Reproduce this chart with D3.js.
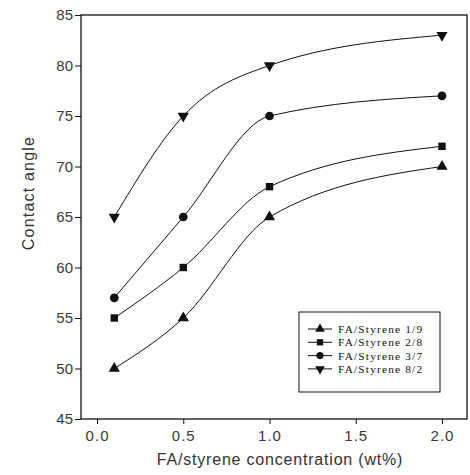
<!DOCTYPE html>
<html>
<head>
<meta charset="utf-8">
<script src="https://cdn.jsdelivr.net/npm/d3@7"></script>
<style>
	body { margin: 0; background: #fff; }
	svg { display: block; }
</style>
</head>
<body>
<svg class="viz" width="470" height="475"></svg>
<script>
// *** Chart values ***
let concs = [0.1, 0.5, 1.0, 2.0];
let names = ["FA/Styrene 1/9", "FA/Styrene 2/8", "FA/Styrene 3/7", "FA/Styrene 8/2"];
let vals19 = [50, 55, 65, 70];
let vals28 = [55, 60, 68, 72];
let vals37 = [57, 65, 75, 77];
let vals82 = [65, 75, 80, 83];
let xTicks = [0.0, 0.5, 1.0, 1.5, 2.0];
let yTicks = [45, 50, 55, 60, 65, 70, 75, 80, 85];

let series = [vals19, vals28, vals37, vals82];
let shapes = [d3.symbolTriangle, d3.symbolSquare, d3.symbolCircle, d3.symbolTriangle];

function render() {
	let grph = d3.select(".viz");

	let x = d3.scaleLinear().domain([-0.093, 2.145]).range([81, 467]);
	let y = d3.scaleLinear().domain([45, 85]).range([419, 15]);

	let tickFont = "'Liberation Sans', Arial, sans-serif";

	// frame
	grph.append("rect")
		.attr("x", x.range()[0]).attr("y", y.range()[1])
		.attr("width", x.range()[1] - x.range()[0])
		.attr("height", y.range()[0] - y.range()[1])
		.attr("fill", "none").attr("stroke", "#111").attr("stroke-width", 1.3);

	// y axis
	let ax = grph.append("g").attr("transform", "translate(81, 0)")
		.call(d3.axisLeft(y).tickValues(yTicks).tickSize(6).tickPadding(2).tickFormat(d3.format("d")));
	ax.select(".domain").remove();
	ax.selectAll("line").attr("stroke", "#111");
	ax.selectAll("text").attr("font-family", tickFont).attr("font-size", 15).attr("fill", "#3a3a3a");

	// x axis
	let bx = grph.append("g").attr("transform", "translate(0, 419)")
		.call(d3.axisBottom(x).tickValues(xTicks).tickSize(5).tickPadding(6).tickFormat(d3.format(".1f")));
	bx.select(".domain").remove();
	bx.selectAll("line").attr("stroke", "#111");
	bx.selectAll("text").attr("font-family", tickFont).attr("font-size", 15).attr("fill", "#3a3a3a")
		.attr("letter-spacing", 1);

	// axis titles
	grph.append("text")
		.attr("transform", "translate(34, 193) rotate(-90)")
		.attr("text-anchor", "middle")
		.attr("font-family", tickFont).attr("font-size", 16).attr("fill", "#333")
		.attr("letter-spacing", 1.2)
		.text("Contact angle");
	grph.append("text")
		.attr("x", 280).attr("y", 465)
		.attr("text-anchor", "middle")
		.attr("font-family", tickFont).attr("font-size", 16).attr("fill", "#333")
		.attr("letter-spacing", 0.8)
		.text("FA/styrene concentration (wt%)");

	// curves
	let line = d3.line()
		.x((d, i) => x(concs[i]))
		.y((d) => y(d))
		.curve(d3.curveMonotoneX);

	series.forEach((vals, s) => {
		grph.append("path")
			.attr("d", line(vals))
			.attr("fill", "none").attr("stroke", "#111").attr("stroke-width", 1);
		vals.forEach((v, i) => {
			grph.append("path")
				.attr("d", d3.symbol().type(shapes[s]).size(s === 2 ? 60 : 55)())
				.attr("transform", "translate(" + x(concs[i]) + "," + y(v) + ")" + (s === 3 ? " rotate(180)" : ""))
				.attr("fill", "#111");
		});
	});

	// legend
	let lg = grph.append("g").attr("transform", "translate(299, 312)");
	lg.append("rect").attr("width", 141).attr("height", 80)
		.attr("fill", "#fff").attr("stroke", "#111").attr("stroke-width", 1);
	names.forEach((nm, s) => {
		let ry = 17 + s * 13.3;
		lg.append("line").attr("x1", 9).attr("x2", 33).attr("y1", ry).attr("y2", ry)
			.attr("stroke", "#111").attr("stroke-width", 1);
		lg.append("path")
			.attr("d", d3.symbol().type(shapes[s]).size(40)())
			.attr("transform", "translate(21," + ry + ")" + (s === 3 ? " rotate(180)" : ""))
			.attr("fill", "#111");
		lg.append("text").attr("x", 39).attr("y", ry + 4)
			.attr("font-family", "'Liberation Serif', 'Times New Roman', serif")
			.attr("font-size", 11.3).attr("letter-spacing", 1.2).attr("fill", "#111")
			.text(nm);
	});
}

render();
</script>
</body>
</html>
